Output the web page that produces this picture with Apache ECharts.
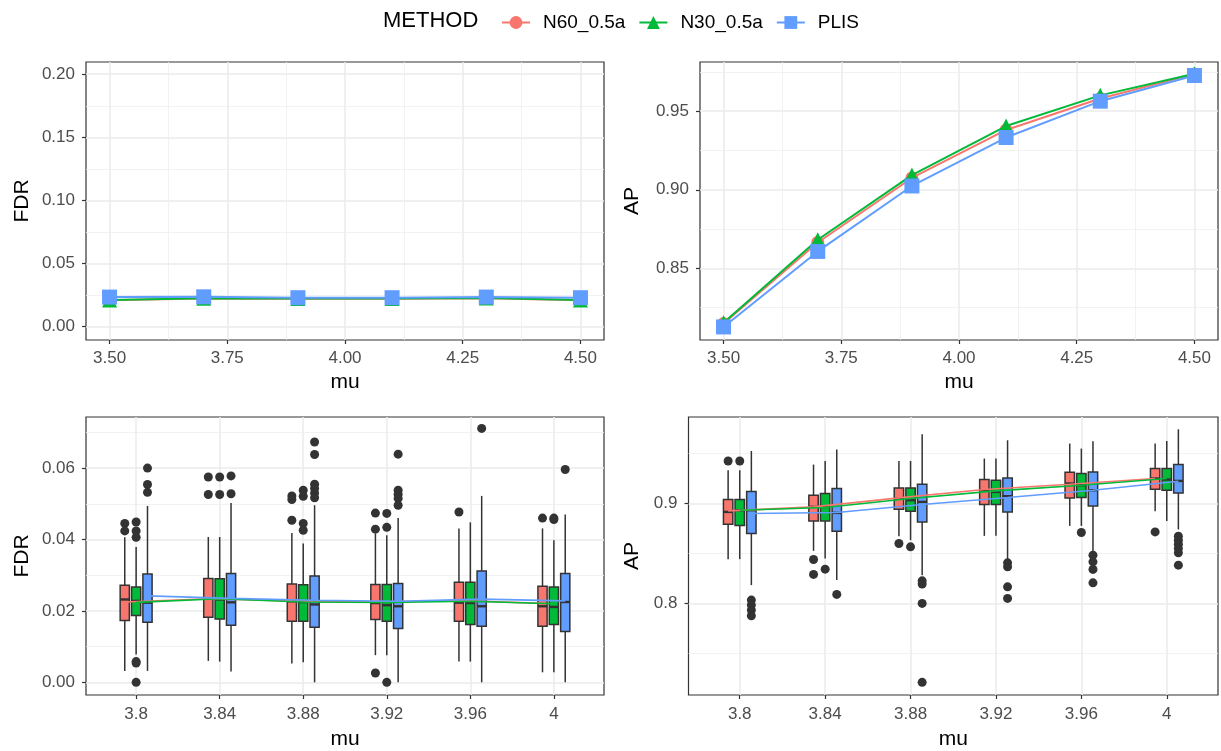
<!DOCTYPE html>
<html><head><meta charset="utf-8">
<script src="https://cdn.jsdelivr.net/npm/echarts@6/dist/echarts.min.js"></script>
<style>html,body{margin:0;padding:0;background:#fff}#c{width:1221px;height:751px}</style>
</head><body><div id="c"></div><script>
// ---------------- DATA ----------------
const methods = ['N60_0.5a', 'N30_0.5a', 'PLIS'];
const muTop = [3.5, 3.7, 3.9, 4.1, 4.3, 4.5];
const topXTicks = [3.5, 3.75, 4.0, 4.25, 4.5];

const fdrTopN60 = [0.0209, 0.0224, 0.0222, 0.0222, 0.0225, 0.0209];
const fdrTopN30 = [0.0211, 0.0225, 0.0223, 0.0223, 0.0227, 0.0211];
const fdrTopPLIS = [0.0235, 0.0237, 0.0230, 0.0230, 0.0235, 0.0230];
const fdrTopTicks = [0.00, 0.05, 0.10, 0.15, 0.20];

const apTopN60 = [0.8150, 0.8665, 0.9075, 0.9380, 0.9580, 0.9735];
const apTopN30 = [0.8154, 0.8682, 0.9093, 0.9405, 0.9600, 0.9737];
const apTopPLIS = [0.8128, 0.8608, 0.9024, 0.9332, 0.9563, 0.9726];
const apTopTicks = [0.85, 0.90, 0.95];

const muBottom = ['3.8', '3.84', '3.88', '3.92', '3.96', '4'];

// box stats per mu: [lower whisker, Q1, median, Q3, upper whisker]
const fdrBoxN60 = [
  [0.0032, 0.0173, 0.0232, 0.0272, 0.0406],
  [0.0060, 0.0182, 0.0235, 0.0291, 0.0407],
  [0.0053, 0.0171, 0.0227, 0.0275, 0.0418],
  [0.0076, 0.0176, 0.0222, 0.0274, 0.0417],
  [0.0058, 0.0171, 0.0223, 0.0280, 0.0431],
  [0.0028, 0.0157, 0.0213, 0.0269, 0.0431]];
const fdrBoxN30 = [
  [0.0078, 0.0187, 0.0228, 0.0267, 0.0379],
  [0.0058, 0.0177, 0.0232, 0.0290, 0.0407],
  [0.0056, 0.0171, 0.0225, 0.0273, 0.0389],
  [0.0076, 0.0171, 0.0216, 0.0274, 0.0412],
  [0.0058, 0.0162, 0.0222, 0.0280, 0.0448],
  [0.0028, 0.0162, 0.0211, 0.0267, 0.0398]];
const fdrBoxPLIS = [
  [0.0032, 0.0168, 0.0223, 0.0303, 0.0494],
  [0.0030, 0.0160, 0.0224, 0.0305, 0.0502],
  [0.0000, 0.0154, 0.0218, 0.0298, 0.0496],
  [0.0000, 0.0151, 0.0213, 0.0277, 0.0460],
  [0.0000, 0.0157, 0.0213, 0.0312, 0.0522],
  [0.0000, 0.0142, 0.0225, 0.0305, 0.0470]];
const fdrOutN60 = [[0.0445, 0.0424], [0.0575, 0.0526], [0.0522, 0.0512, 0.0454], [0.0474, 0.0429, 0.0026], [0.0477], [0.0460]];
const fdrOutN30 = [[0.0449, 0.0424, 0.0406, 0.0058, 0.0054, 0.0000], [0.0575, 0.0526], [0.0538, 0.0521, 0.0445, 0.0426], [0.0473, 0.0434, 0.0000], [], [0.0460, 0.0456]];
const fdrOutPLIS = [[0.0600, 0.0554, 0.0532], [0.0578, 0.0528], [0.0673, 0.0638, 0.0555, 0.0543, 0.0530, 0.0517], [0.0639, 0.0538, 0.0527, 0.0515, 0.0496], [0.0711], [0.0596]];
const fdrMeanN60 = [0.0225, 0.0234, 0.0228, 0.0225, 0.0229, 0.0221];
const fdrMeanN30 = [0.0224, 0.0234, 0.0225, 0.0224, 0.0227, 0.0220];
const fdrMeanPLIS = [0.0242, 0.0235, 0.0230, 0.0227, 0.0233, 0.0228];
const fdrBotTicks = [0.00, 0.02, 0.04, 0.06];

const apBoxN60 = [
  [0.8443, 0.8793, 0.8916, 0.9040, 0.9333],
  [0.8526, 0.8826, 0.8966, 0.9083, 0.9390],
  [0.8673, 0.8943, 0.9050, 0.9156, 0.9426],
  [0.8676, 0.8990, 0.9133, 0.9240, 0.9450],
  [0.8776, 0.9056, 0.9200, 0.9313, 0.9600],
  [0.8923, 0.9143, 0.9250, 0.9350, 0.9600]];
const apBoxN30 = [
  [0.8443, 0.8780, 0.8933, 0.9040, 0.9333],
  [0.8450, 0.8826, 0.8966, 0.9100, 0.9426],
  [0.8633, 0.8923, 0.9033, 0.9156, 0.9426],
  [0.8676, 0.8990, 0.9116, 0.9233, 0.9450],
  [0.8776, 0.9060, 0.9183, 0.9300, 0.9550],
  [0.8826, 0.9133, 0.9240, 0.9350, 0.9626]];
const apBoxPLIS = [
  [0.8183, 0.8700, 0.8933, 0.9120, 0.9526],
  [0.8233, 0.8723, 0.8906, 0.9150, 0.9540],
  [0.8283, 0.8816, 0.9016, 0.9193, 0.9693],
  [0.8433, 0.8916, 0.9073, 0.9256, 0.9633],
  [0.8516, 0.8976, 0.9133, 0.9316, 0.9623],
  [0.8740, 0.9106, 0.9226, 0.9390, 0.9743]];
const apOutN60 = [[0.9426], [0.8440, 0.8290], [0.8600], [], [], [0.8716]];
const apOutN30 = [[0.9426], [0.8343], [0.8566], [], [0.8710], []];
const apOutPLIS = [[0.8033, 0.7983, 0.7933, 0.7876], [0.8090], [0.8226, 0.8193, 0.8000, 0.7210], [0.8406, 0.8366, 0.8166, 0.8050], [0.8483, 0.8416, 0.8340, 0.8206], [0.8673, 0.8633, 0.8593, 0.8550, 0.8506, 0.8383]];
const apMeanN60 = [0.8926, 0.8966, 0.9056, 0.9140, 0.9193, 0.9250];
const apMeanN30 = [0.8933, 0.8960, 0.9050, 0.9126, 0.9183, 0.9250];
const apMeanPLIS = [0.8900, 0.8910, 0.8990, 0.9060, 0.9133, 0.9223];
const apBotTicks = [0.8, 0.9];

// ---------------- STYLE ----------------
const colors = ['#F8766D', '#00BA38', '#619CFF'];
const symbols = ['circle', 'triangle', 'rect'];
const symSizes = [13, 15, 15];
const FONT = 'Liberation Sans';
const DODGE = 0.136, BOXW = 0.11;

const grids = [
  {left: 86, top: 62, width: 518, height: 278},
  {left: 700, top: 62, width: 518, height: 278},
  {left: 86, top: 417, width: 518, height: 278},
  {left: 688.5, top: 417, width: 529.5, height: 278}
].map(g => Object.assign(g, {show: true, backgroundColor: '#fff', borderColor: '#333', borderWidth: 1.2}));

const xAxes = [], yAxes = [];
function minorAxis(list, g, min, max, vals, isX) {
  list.push({type: 'value', gridIndex: g, min: min, max: max, show: true,
    position: isX ? 'bottom' : 'left',
    axisLine: {show: false, onZero: false}, axisTick: {show: false, customValues: vals},
    axisLabel: {show: false, customValues: vals},
    splitLine: {show: true, lineStyle: {color: '#EFEFEF', width: 0.8}}});
  return list.length - 1;
}
function majorAxis(list, g, min, max, vals, fmt, name, gap, isX, margin) {
  list.push({type: 'value', gridIndex: g, min: min, max: max,
    position: isX ? 'bottom' : 'left',
    axisLine: {show: false, onZero: false},
    axisTick: {show: true, customValues: vals, length: 4, lineStyle: {color: '#333', width: 1.2}},
    axisLabel: {customValues: vals, formatter: fmt, color: '#4D4D4D', fontSize: 17, fontFamily: FONT, margin: margin},
    splitLine: {show: true, lineStyle: {color: '#EBEBEB', width: 1.5}},
    name: name, nameLocation: 'middle', nameGap: gap,
    nameTextStyle: {color: '#000', fontSize: 21, fontFamily: FONT}});
  return list.length - 1;
}
const f2 = v => v.toFixed(2);
const f1 = v => v.toFixed(1);
const fcat = v => muBottom[Math.round(v) - 1];

// top-left
minorAxis(xAxes, 0, 3.45, 4.55, [3.625, 3.875, 4.125, 4.375], true);
const xTL = majorAxis(xAxes, 0, 3.45, 4.55, topXTicks, f2, 'mu', 32, true, 10);
minorAxis(yAxes, 0, -0.0105, 0.2097, [0.025, 0.075, 0.125, 0.175], false);
const yTL = majorAxis(yAxes, 0, -0.0105, 0.2097, fdrTopTicks, f2, 'FDR', 53, false, 11);
// top-right
minorAxis(xAxes, 1, 3.45, 4.55, [3.625, 3.875, 4.125, 4.375], true);
const xTR = majorAxis(xAxes, 1, 3.45, 4.55, topXTicks, f2, 'mu', 32, true, 10);
minorAxis(yAxes, 1, 0.8045, 0.9812, [0.825, 0.875, 0.925, 0.975], false);
const yTR = majorAxis(yAxes, 1, 0.8045, 0.9812, apTopTicks, f2, 'AP', 57, false, 11);
// bottom-left
const xBL = majorAxis(xAxes, 2, 0.4, 6.6, [1, 2, 3, 4, 5, 6], fcat, 'mu', 34, true, 11);
minorAxis(yAxes, 2, -0.00355, 0.0743, [0.01, 0.03, 0.05, 0.07], false);
const yBL = majorAxis(yAxes, 2, -0.00355, 0.0743, fdrBotTicks, f2, 'FDR', 53, false, 11);
// bottom-right
const xBR = majorAxis(xAxes, 3, 0.4, 6.6, [1, 2, 3, 4, 5, 6], fcat, 'mu', 34, true, 11);
minorAxis(yAxes, 3, 0.7083, 0.9866, [0.75, 0.85, 0.95], false);
const yBR = majorAxis(yAxes, 3, 0.7083, 0.9866, apBotTicks, f1, 'AP', 46, false, 11);

const series = [];
function topLines(xi, yi, arrs) {
  arrs.forEach((arr, k) => {
    series.push({type: 'line', name: methods[k], xAxisIndex: xi, yAxisIndex: yi,
      data: muTop.map((m, i) => [m, arr[i]]),
      symbol: symbols[k], symbolSize: symSizes[k], showSymbol: true,
      lineStyle: {color: colors[k], width: 2}, itemStyle: {color: colors[k], opacity: 1},
      z: 3 + k, animation: false});
  });
}
topLines(xTL, yTL, [fdrTopN60, fdrTopN30, fdrTopPLIS]);
topLines(xTR, yTR, [apTopN60, apTopN30, apTopPLIS]);

function boxRender(offset, color) {
  return function (params, api) {
    const x = api.value(0) + offset;
    const lo = api.coord([x, api.value(1)]);
    const q1 = api.coord([x, api.value(2)]);
    const md = api.coord([x, api.value(3)]);
    const q3 = api.coord([x, api.value(4)]);
    const hi = api.coord([x, api.value(5)]);
    const w = api.size([BOXW, 0])[0];
    const st = {stroke: '#333', lineWidth: 1.5};
    return {type: 'group', children: [
      {type: 'line', shape: {x1: lo[0], y1: lo[1], x2: q1[0], y2: q1[1]}, style: st},
      {type: 'line', shape: {x1: q3[0], y1: q3[1], x2: hi[0], y2: hi[1]}, style: st},
      {type: 'rect', shape: {x: q3[0] - w / 2, y: q3[1], width: w, height: q1[1] - q3[1]},
        style: {fill: color, stroke: '#333', lineWidth: 1.5}},
      {type: 'line', shape: {x1: md[0] - w / 2, y1: md[1], x2: md[0] + w / 2, y2: md[1]},
        style: {stroke: '#333', lineWidth: 2.4}}
    ]};
  };
}
function boxPanel(xi, yi, boxes, outs, means) {
  for (let k = 0; k < 3; k++) {
    const off = (k - 1) * DODGE;
    series.push({type: 'custom', name: methods[k], xAxisIndex: xi, yAxisIndex: yi,
      renderItem: boxRender(off, colors[k]),
      data: boxes[k].map((b, i) => [i + 1].concat(b)),
      encode: {x: 0, y: [1, 2, 3, 4, 5]}, z: 3, animation: false, silent: true});
    const od = [];
    outs[k].forEach((lst, i) => lst.forEach(v => od.push([i + 1 + off, v])));
    series.push({type: 'scatter', xAxisIndex: xi, yAxisIndex: yi, data: od,
      symbol: 'circle', symbolSize: 9, itemStyle: {color: '#333', opacity: 1},
      z: 3, animation: false, silent: true});
  }
  for (let k = 0; k < 3; k++) {
    const off = (k - 1) * DODGE;
    series.push({type: 'line', name: methods[k], xAxisIndex: xi, yAxisIndex: yi,
      data: means[k].map((m, i) => [i + 1 + off, m]), showSymbol: false, symbol: 'none',
      lineStyle: {color: colors[k], width: 1.6}, z: 6, animation: false, silent: true});
  }
}
boxPanel(xBL, yBL, [fdrBoxN60, fdrBoxN30, fdrBoxPLIS], [fdrOutN60, fdrOutN30, fdrOutPLIS], [fdrMeanN60, fdrMeanN30, fdrMeanPLIS]);
boxPanel(xBR, yBR, [apBoxN60, apBoxN30, apBoxPLIS], [apOutN60, apOutN30, apOutPLIS], [apMeanN60, apMeanN30, apMeanPLIS]);

const chart = echarts.init(document.getElementById('c'), null, {renderer: 'canvas'});
chart.setOption({
  backgroundColor: '#fff',
  animation: false,
  textStyle: {fontFamily: FONT},
  grid: grids,
  xAxis: xAxes,
  yAxis: yAxes,
  legend: {data: methods, left: 496, top: 8, itemWidth: 28, itemHeight: 16, itemGap: 13,
    textStyle: {fontSize: 19, color: '#000', fontFamily: FONT, padding: [0, 0, 0, 8]}},
  graphic: [{type: 'text', x: 383, y: 21,
    style: {text: 'METHOD', fill: '#000', font: '22px "Liberation Sans"', verticalAlign: 'middle'}}],
  series: series
});
</script></body></html>
